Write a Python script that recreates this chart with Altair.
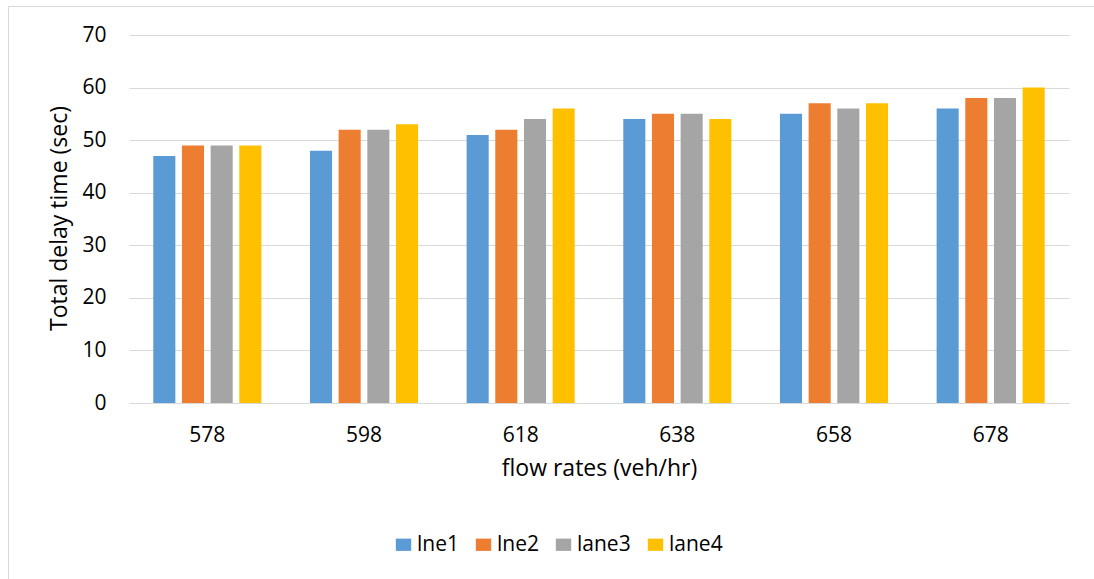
import altair as alt
import pandas as pd

# Flow rates (x categories) and lane series
flow_rates = ["578", "598", "618", "638", "658", "678"]
lanes = ["lne1", "lne2", "lane3", "lane4"]
lne1 = [47, 48, 51, 54, 55, 56]
lne2 = [49, 52, 52, 55, 57, 58]
lane3 = [49, 52, 54, 55, 56, 58]
lane4 = [49, 53, 56, 54, 57, 60]
colors = ["#5B9BD5", "#ED7D31", "#A5A5A5", "#FFC000"]

rows = []
for lane, vals in zip(lanes, [lne1, lne2, lane3, lane4]):
    for f, v in zip(flow_rates, vals):
        rows.append({"flow": f, "lane": lane, "delay": v})
df = pd.DataFrame(rows)

FONT = "Open Sans"
GRID = "#D9D9D9"

bars = alt.Chart(df).mark_bar().encode(
    x=alt.X(
        "flow:N",
        sort=flow_rates,
        scale=alt.Scale(paddingInner=0.31, paddingOuter=0.155),
        axis=alt.Axis(
            title="flow rates (veh/hr)",
            labelAngle=0,
            ticks=False,
            tickSize=0,
            labelPadding=38,
            labelBaseline="alphabetic",
            labelFontSize=21,
            labelColor="#000000",
            labelFont=FONT,
            domainColor=GRID,
            domainWidth=1,
            grid=False,
            titleFont=FONT,
            titleFontSize=23,
            titleFontWeight="normal",
            titleColor="#000000",
            titleY=72,
            titleBaseline="alphabetic",
        ),
    ),
    xOffset=alt.XOffset(
        "lane:N", sort=lanes, scale=alt.Scale(paddingInner=0.23, paddingOuter=0)
    ),
    y=alt.Y(
        "delay:Q",
        scale=alt.Scale(domain=[0, 70]),
        axis=alt.Axis(
            values=list(range(0, 71, 10)),
            title="Total delay time (sec)",
            domain=False,
            ticks=False,
            tickSize=0,
            labelPadding=23,
            labelFontSize=21,
            labelColor="#000000",
            labelFont=FONT,
            gridColor=GRID,
            gridWidth=1,
            titleFont=FONT,
            titleFontSize=23,
            titleFontWeight="normal",
            titleColor="#000000",
            titleAngle=-90,
            titleX=-63,
            titleY=183,
            titleAlign="center",
            titleBaseline="alphabetic",
        ),
    ),
    color=alt.Color(
        "lane:N",
        sort=lanes,
        scale=alt.Scale(domain=lanes, range=colors),
        legend=alt.Legend(
            title=None,
            orient="none",
            direction="horizontal",
            columns=4,
            legendX=264,
            legendY=499,
            padding=0,
            labelFont=FONT,
            labelFontSize=21,
            labelColor="#000000",
            labelOffset=3,
            columnPadding=14,
            symbolType="M-1.25,-1H1.25V1H-1.25Z",
            symbolSize=151,
            symbolStrokeWidth=0,
        ),
    ),
)

# Light frame around the whole chart
frame = alt.Chart(pd.DataFrame({"k": [0]})).mark_rect(
    fillOpacity=0, stroke=GRID, strokeWidth=1
).encode(
    x=alt.value(-120.5),
    x2=alt.value(990),
    y=alt.value(-28.5),
    y2=alt.value(570),
)

chart = alt.layer(frame, bars).properties(
    width=940,
    height=368,
    autosize=alt.AutoSizeParams(type="none"),
    padding={"left": 129, "top": 35, "right": 25, "bottom": 176},
    background="white",
).configure_view(stroke=None)

chart.save("out.html", embed_options={"renderer": "svg", "actions": False})
